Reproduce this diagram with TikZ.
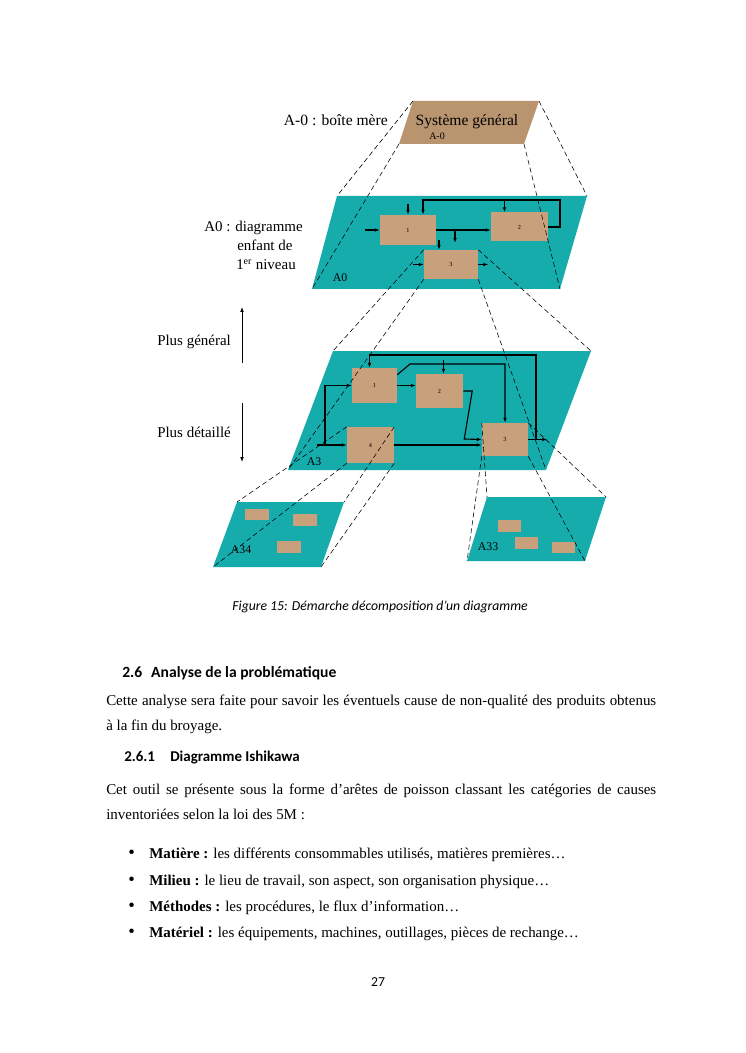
\documentclass[tikz,border=0pt]{standalone}
\usepackage{fontspec}
\setmainfont{Liberation Serif}
\newfontfamily\calibri{Carlito}
\usetikzlibrary{arrows.meta,calc}
\definecolor{platecyan}{HTML}{17ACAC}
\definecolor{boxtan}{HTML}{C8A07C}
\definecolor{meretan}{HTML}{B8956F}
\newlength{\pxu}
\setlength{\pxu}{0.028188cm}
\newcommand{\bigbul}{\makebox[21\pxu][l]{\fontsize{15}{15}\selectfont\raisebox{-0.5pt}{•}}}

\begin{document}
\begin{tikzpicture}[
    x=0.028188cm, y=-0.028188cm,
    >={Latex[length=4pt,width=3pt]},
    plate/.style={fill=platecyan},
    blk/.style={fill=boxtan, inner sep=0pt, font=\fontsize{5}{6}\selectfont},
    minibox/.style={fill=boxtan, minimum width=23\pxu, minimum height=12\pxu,
        inner sep=0pt},
    flow/.style={->, line width=0.9pt},
    proj/.style={dash pattern=on 4pt off 2.5pt, line width=0.45pt},
    tag/.style={font=\fontsize{9.5}{11}\selectfont, inner sep=0pt},
    lbl/.style={font=\fontsize{12}{15}\selectfont, inner sep=0pt, anchor=base west},
    bodytxt/.style={font=\fontsize{12}{15}\selectfont, inner sep=0pt, anchor=base west},
]

\fill[white] (0,0) rectangle (745,1053);
\useasboundingbox (0,0) rectangle (745,1053);

% =====================================================
% Corners of the boxes and plates
% =====================================================
\coordinate (mereNW) at (413,101);
\coordinate (mereNE) at (539,101);
\coordinate (mereSE) at (524,144);
\coordinate (mereSW) at (399,144);

\coordinate (a0NW) at (337,196);
\coordinate (a0NE) at (587,196);
\coordinate (a0SE) at (560,289);
\coordinate (a0SW) at (312,289);

\coordinate (a3NW) at (333,351);
\coordinate (a3NE) at (591,351);
\coordinate (a3SE) at (546,470);
\coordinate (a3SW) at (288,470);

\coordinate (a34NW) at (237,502);
\coordinate (a34NE) at (344,502);
\coordinate (a34SE) at (321,567);
\coordinate (a34SW) at (213,567);

\coordinate (a33NW) at (487,497);
\coordinate (a33NE) at (606,497);
\coordinate (a33SE) at (585,561);
\coordinate (a33SW) at (467,561);

% =====================================================
% A-0 : parent box
% =====================================================
\fill[meretan] (mereNW) -- (mereNE) -- (mereSE) -- (mereSW) -- cycle;
\node[inner sep=0pt, font=\fontsize{12.5}{14}\selectfont] (sysgen) at (467,122)
    {Système général};
\node[inner sep=0pt, font=\fontsize{8}{9}\selectfont] (merelbl) at (437,136) {A-0};

\node[lbl, anchor=base east, font=\fontsize{12.5}{15}\selectfont] (merecap)
    at (388,126) {A-0 : boîte mère};

% =====================================================
% A0 plate
% =====================================================
\fill[plate] (a0NW) -- (a0NE) -- (a0SE) -- (a0SW) -- cycle;
\node[tag] (a0tag) at (340,278) {A0};

\node[blk, minimum width=56\pxu, minimum height=30\pxu] (a0b1) at (408,230) {1};
\node[blk, minimum width=57\pxu, minimum height=29\pxu] (a0b2) at (519.5,227) {2};
\node[blk, minimum width=54\pxu, minimum height=29\pxu] (a0b3) at (451,264.5) {3};

\coordinate (a0fb) at (560,200);
\coordinate (a0br) at (455,230);

\draw[flow] (a0b1.west) ++(-15,0) -- (a0b1.west);
\draw[flow] (a0b1.north) ++(0,-11) -- (a0b1.north);
\draw[flow] (a0b1.east) -- (a0b1.east -| a0b2.west);
\draw[flow] (a0b2.east) -| (a0fb) -| ([xshift=15\pxu]a0b1.north);
\draw[flow] ([xshift=-15\pxu]a0b2.north) ++(0,-12) -- ([xshift=-15\pxu]a0b2.north);
\draw[flow] (a0br) -- ++(0,13);
\draw[flow] ([xshift=-12\pxu]a0b3.north) ++(0,-10) -- ([xshift=-12\pxu]a0b3.north);
\draw[flow] (a0b3.west) ++(-11,0) -- (a0b3.west);
\draw[flow] (a0b3.east) -- ++(10,0);

\node[lbl] (a0cap1) at (204,232) {A0 : diagramme};
\node[lbl] (a0cap2) at (237,251) {enfant de};
\node[lbl] (a0cap3) at (236,270) {1\textsuperscript{er} niveau};

% =====================================================
% A3 plate
% =====================================================
\fill[plate] (a3NW) -- (a3NE) -- (a3SE) -- (a3SW) -- cycle;
\node[tag] (a3tag) at (314,462) {A3};

\node[blk, minimum width=45\pxu, minimum height=35\pxu] (a3b1) at (374.5,385.5) {1};
\node[blk, minimum width=47\pxu, minimum height=34\pxu] (a3b2) at (439.5,391) {2};
\node[blk, minimum width=46\pxu, minimum height=33\pxu] (a3b3) at (505,439.5) {3};
\node[blk, minimum width=47\pxu, minimum height=36\pxu] (a3b4) at (370.5,445) {4};

\coordinate (a3in) at (317,445);
\coordinate (a3sp) at (325,445);
\coordinate (a3top) at (410,364);
\coordinate (a3fb) at (536,355);

\draw[flow] (a3in) -- (a3b4.west);
\draw[flow] (a3sp) |- (a3b1.west);
\draw[flow] (a3b1.east) -- (a3b1.east -| a3b2.west);
\draw[flow] (a3b4.east) -- (a3b4.east -| a3b3.west);
\draw[flow] (a3b2.east) -- ++(9,0) -- ++(-8,48) -- (a3b3.west);
\draw[flow] ([yshift=-7\pxu]a3b1.north east) -- (a3top) -| (a3b3.north);
\draw[flow] ([xshift=4\pxu]a3b2.north) ++(0,-14) -- ([xshift=4\pxu]a3b2.north);
\draw[flow] (a3b3.east) -- ++(19,0);
\draw[flow] (a3b3.east -| a3fb) -- (a3fb) -| ([xshift=-5\pxu]a3b1.north);

% --- level arrows ---
\node[lbl] (gen) at (157,346) {Plus général};
\node[lbl] (det) at (157,437) {Plus détaillé};
\coordinate (genlo) at (242,363);
\coordinate (genhi) at (242,307);
\coordinate (dethi) at (242,403);
\coordinate (detlo) at (242,462);
\draw[->, line width=0.6pt] (genlo) -- (genhi);
\draw[->, line width=0.6pt] (dethi) -- (detlo);

% =====================================================
% A34 and A33 plates
% =====================================================
\fill[plate] (a34NW) -- (a34NE) -- (a34SE) -- (a34SW) -- cycle;
\node[minibox, minimum width=24\pxu, minimum height=11\pxu] (a34m1) at (257,514.5) {};
\node[minibox, minimum width=24\pxu] (a34m2) at (305,520) {};
\node[minibox, minimum width=24\pxu] (a34m3) at (289,547) {};
\node[tag] (a34tag) at (241,550) {A34};

\fill[plate] (a33NW) -- (a33NE) -- (a33SE) -- (a33SW) -- cycle;
\node[minibox] (a33m1) at (509.5,526) {};
\node[minibox] (a33m2) at (526.5,543) {};
\node[minibox, minimum height=11\pxu] (a33m3) at (563.5,547.5) {};
\node[tag] (a33tag) at (488,547) {A33};

% =====================================================
% Dashed projection lines (on top)
% =====================================================
\foreach \anc/\cor in {north west/NW, north east/NE, south east/SE, south west/SW} {
    \draw[proj] (mere\cor) -- (a0\cor);
    \draw[proj] (a0b3.\anc) -- (a3\cor);
    \draw[proj] (a3b4.\anc) -- (a34\cor);
    \draw[proj] (a3b3.\anc) -- (a33\cor);
}

% =====================================================
% Caption and page text
% =====================================================
\node[inner sep=0pt, anchor=base, font=\calibri\itshape\fontsize{11}{13}\selectfont]
    (caption) at (380,610) {Figure 15: Démarche décomposition d’un diagramme};

\node[bodytxt, font=\calibri\bfseries\fontsize{12.5}{14}\selectfont] (sec) at (122,677)
    {\makebox[29\pxu][l]{2.6}Analyse de la problématique};
\node[bodytxt] (l1) at (106,705)
    {\makebox[550\pxu][s]{Cette analyse sera faite pour savoir les éventuels cause de non-qualité des produits obtenus}};
\node[bodytxt] (l2) at (106,730) {à la fin du broyage.};

\node[bodytxt, font=\calibri\bfseries\fontsize{12}{14}\selectfont] (subsec) at (124,761)
    {\makebox[46\pxu][l]{2.6.1}Diagramme Ishikawa};
\node[bodytxt] (l3) at (106,794)
    {\makebox[550\pxu][s]{Cet outil se présente sous la forme d’arêtes de poisson classant les catégories de causes}};
\node[bodytxt] (l4) at (106,819) {inventoriées selon la loi des 5M :};

\node[bodytxt] (i1) at (128,858)
    {\bigbul\textbf{Matière :} les différents consommables utilisés, matières premières…};
\node[bodytxt] (i2) at (128,885)
    {\bigbul\textbf{Milieu :} le lieu de travail, son aspect, son organisation physique…};
\node[bodytxt] (i3) at (128,911)
    {\bigbul\textbf{Méthodes :} les procédures, le flux d’information…};
\node[bodytxt] (i4) at (128,937)
    {\bigbul\textbf{Matériel :} les équipements, machines, outillages, pièces de rechange…};

\node[inner sep=0pt, anchor=base, font=\calibri\fontsize{11}{13}\selectfont]
    (pagenum) at (378,986) {27};

\end{tikzpicture}
\end{document}
